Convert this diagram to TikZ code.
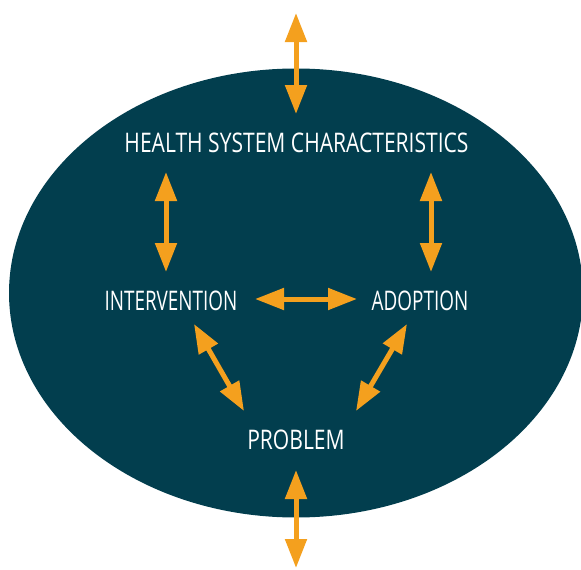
\documentclass[tikz,border=0pt]{standalone}
\usepackage{fontspec}
\setmainfont[FakeStretch=0.70]{Open Sans}
\newfontfamily\widelab[FakeStretch=0.78]{Open Sans}
\usetikzlibrary{arrows.meta}
\definecolor{teal}{RGB}{2,62,78}
\definecolor{amber}{RGB}{244,160,30}
\tikzset{
  label/.style={text=white, font=\fontsize{27}{31}\selectfont, inner sep=0pt, anchor=center},
  widelabel/.style={label, font=\widelab\fontsize{27}{31}\selectfont},
  dbl/.style={draw=amber, line width=5pt,
    {Triangle[width=21pt,length=29pt]}-{Triangle[width=21pt,length=29pt]}}
}
\begin{document}
\begin{tikzpicture}[x=1pt,y=-1pt]
\useasboundingbox (0,0) rectangle (581,570);
\clip (0,0) rectangle (581,570);
\fill[teal] (296,293) ellipse [x radius=287, y radius=224.5];
\node[widelabel] (hsc) at (296.5,143) {HEALTH SYSTEM CHARACTERISTICS};
\node[label] (int) at (171,300.5) {INTERVENTION};
\node[label] (ado) at (420,300.5) {ADOPTION};
\node[widelabel] (pro) at (296,440) {PROBLEM};
\coordinate (topA) at (296,13);
\coordinate (topB) at (296,114);
\coordinate (botA) at (296,470);
\coordinate (botB) at (296,568);
\coordinate (lvA) at (166,172);
\coordinate (lvB) at (166,272);
\coordinate (rvA) at (431,172);
\coordinate (rvB) at (431,272);
\coordinate (hA) at (255,299);
\coordinate (hB) at (357,299);
\coordinate (ldA) at (194,324);
\coordinate (ldB) at (244,411);
\coordinate (rdA) at (407,324);
\coordinate (rdB) at (356,411);
\draw[dbl] (topA) -- (topB);
\draw[dbl] (botA) -- (botB);
\draw[dbl] (lvA) -- (lvB);
\draw[dbl] (rvA) -- (rvB);
\draw[dbl] (hA) -- (hB);
\draw[dbl] (ldA) -- (ldB);
\draw[dbl] (rdA) -- (rdB);
\end{tikzpicture}
\end{document}
